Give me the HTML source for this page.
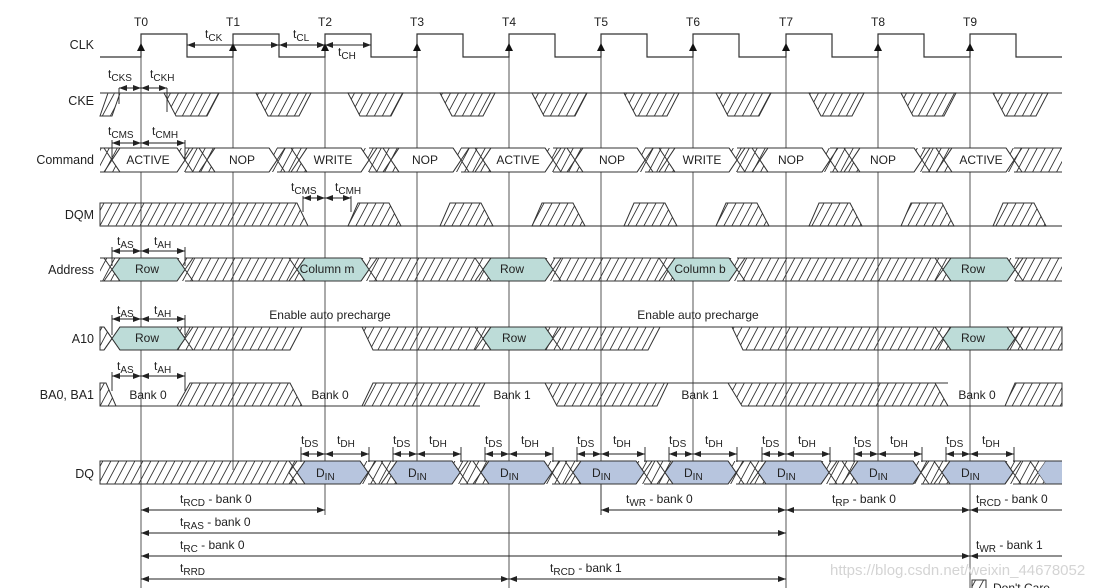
<!DOCTYPE html>
<html><head><meta charset="utf-8"><style>
html,body{margin:0;padding:0;background:#fff;}
svg{display:block;font-family:"Liberation Sans",sans-serif;}
text{font-size:12px;fill:#222;}
.lb{font-size:12.5px;}
.s{font-size:10px;}
</style></head><body>
<svg id="s" width="1117" height="588" viewBox="0 0 1117 588" xmlns="http://www.w3.org/2000/svg">
<defs>
<pattern id="h" patternUnits="userSpaceOnUse" width="8" height="12" patternTransform="skewX(-28)">
<line x1="4" y1="-1" x2="4" y2="13" stroke="#333" stroke-width="1"/>
</pattern>
<marker id="ae" markerWidth="8" markerHeight="6" refX="8" refY="3" orient="auto" markerUnits="userSpaceOnUse"><path d="M0,0 L8,3 L0,6z" fill="#222"/></marker>
<marker id="as" markerWidth="8" markerHeight="6" refX="0" refY="3" orient="auto" markerUnits="userSpaceOnUse"><path d="M8,0 L0,3 L8,6z" fill="#222"/></marker>
</defs>
<g id="g"></g>
<g class="lb" text-anchor="end">
<text x="94" y="49" class="lb">CLK</text>
<text x="94" y="105" class="lb">CKE</text>
<text x="94" y="164" class="lb">Command</text>
<text x="94" y="219" class="lb">DQM</text>
<text x="94" y="274" class="lb">Address</text>
<text x="94" y="343" class="lb">A10</text>
<text x="94" y="399" class="lb">BA0, BA1</text>
<text x="94" y="478" class="lb">DQ</text>
</g>
<g text-anchor="middle" font-size="11">
<text x="141" y="26">T0</text><text x="233" y="26">T1</text><text x="325" y="26">T2</text><text x="417" y="26">T3</text><text x="509" y="26">T4</text><text x="601" y="26">T5</text><text x="693" y="26">T6</text><text x="786" y="26">T7</text><text x="878" y="26">T8</text><text x="970" y="26">T9</text>
</g>
<g text-anchor="middle" style="font-size:10.5px">
<text x="148" y="164">ACTIVE</text><text x="242" y="164">NOP</text><text x="333" y="164">WRITE</text><text x="425" y="164">NOP</text><text x="518" y="164">ACTIVE</text><text x="612" y="164">NOP</text><text x="702" y="164">WRITE</text><text x="791" y="164">NOP</text><text x="883" y="164">NOP</text><text x="981" y="164">ACTIVE</text>
<text x="147" y="273">Row</text><text x="327" y="273">Column m</text><text x="512" y="273">Row</text><text x="700" y="273">Column b</text><text x="973" y="273">Row</text>
<text x="147" y="342">Row</text><text x="514" y="342">Row</text><text x="973" y="342">Row</text>
<text x="148" y="399">Bank 0</text><text x="330" y="399">Bank 0</text><text x="512" y="399">Bank 1</text><text x="700" y="399">Bank 1</text><text x="977" y="399">Bank 0</text>
<text x="330" y="319">Enable auto precharge</text><text x="698" y="319">Enable auto precharge</text>
</g>
<g id="din" text-anchor="middle"></g>
<g>
<text x="205" y="38">t<tspan class="s" dy="3">CK</tspan></text>
<text x="293" y="38">t<tspan class="s" dy="3">CL</tspan></text>
<text x="338" y="56">t<tspan class="s" dy="3">CH</tspan></text>
<text x="108" y="78">t<tspan class="s" dy="3">CKS</tspan></text>
<text x="150" y="78">t<tspan class="s" dy="3">CKH</tspan></text>
<text x="108" y="135">t<tspan class="s" dy="3">CMS</tspan></text>
<text x="152" y="135">t<tspan class="s" dy="3">CMH</tspan></text>
<text x="291" y="191">t<tspan class="s" dy="3">CMS</tspan></text>
<text x="335" y="191">t<tspan class="s" dy="3">CMH</tspan></text>
<text x="117" y="245">t<tspan class="s" dy="3">AS</tspan></text>
<text x="154" y="245">t<tspan class="s" dy="3">AH</tspan></text>
<text x="117" y="314">t<tspan class="s" dy="3">AS</tspan></text>
<text x="154" y="314">t<tspan class="s" dy="3">AH</tspan></text>
<text x="117" y="370">t<tspan class="s" dy="3">AS</tspan></text>
<text x="154" y="370">t<tspan class="s" dy="3">AH</tspan></text>
<text x="180" y="503">t<tspan class="s" dy="3">RCD</tspan><tspan dy="-3"> - bank 0</tspan></text>
<text x="180" y="526">t<tspan class="s" dy="3">RAS</tspan><tspan dy="-3"> - bank 0</tspan></text>
<text x="180" y="549">t<tspan class="s" dy="3">RC</tspan><tspan dy="-3"> - bank 0</tspan></text>
<text x="180" y="572">t<tspan class="s" dy="3">RRD</tspan></text>
<text x="550" y="572">t<tspan class="s" dy="3">RCD</tspan><tspan dy="-3"> - bank 1</tspan></text>
<text x="626" y="503">t<tspan class="s" dy="3">WR</tspan><tspan dy="-3"> - bank 0</tspan></text>
<text x="832" y="503">t<tspan class="s" dy="3">RP</tspan><tspan dy="-3"> - bank 0</tspan></text>
<text x="976" y="503">t<tspan class="s" dy="3">RCD</tspan><tspan dy="-3"> - bank 0</tspan></text>
<text x="976" y="549">t<tspan class="s" dy="3">WR</tspan><tspan dy="-3"> - bank 1</tspan></text>
</g>
<g id="dsdh"></g>
<text x="830" y="575" style="font-size:15px;fill:#d4d4d4">https://blog.csdn.net/weixin_44678052</text>
<rect x="972" y="580" width="14" height="12" fill="url(#h)" stroke="#333"/>
<text x="993" y="592">Don't Care</text>
</svg>
<script>
(function(){
var NS="http://www.w3.org/2000/svg",g=document.getElementById("g");
var T=[141,233,325,417,509,601,693,786,878,970];
function e(tag,a,p){var n=document.createElementNS(NS,tag);for(var k in a)n.setAttribute(k,a[k]);(p||g).appendChild(n);return n;}
function L(x1,y1,x2,y2,c,w,extra){var a={x1:x1,y1:y1,x2:x2,y2:y2,stroke:c||"#333","stroke-width":w||1};for(var k in extra)a[k]=extra[k];return e("line",a);}
function P(pts,fill,stroke){return e("polygon",{points:pts.map(function(p){return p.join(",")}).join(" "),fill:fill,stroke:stroke||"#333","stroke-width":1});}
function A(x1,x2,y){L(x1,y,x2,y,"#222",1,{"marker-start":"url(#as)","marker-end":"url(#ae)"});}
function AR(x1,x2,y){L(x1,y,x2,y,"#222",1,{"marker-start":"url(#as)"});}
var ends=[588,470,515,470,588,515,470,588,470,588];
T.forEach(function(t,i){L(t,44,t,ends[i],"#555",1);});
var d="M100,57";T.forEach(function(t){d+=" L"+t+",57 L"+t+",34 L"+(t+46)+",34 L"+(t+46)+",57";});d+=" L1062,57";
e("path",{d:d,fill:"none",stroke:"#333","stroke-width":1.2});
T.forEach(function(t){e("path",{d:"M"+(t-4)+",51 L"+t+",43 L"+(t+4)+",51z",fill:"#111"});});
P([[100,116],[108,93],[120,93],[112,116]],"url(#h)");
L(100,93,1062,93,"#555",1.2);
T.forEach(function(t){P([[t+23,93],[t+78,93],[t+66,116],[t+35,116]],"url(#h)");});
function bus(y0,y1,wins,fill,startX,endX){
 var m=(y0+y1)/2,s=8;
 wins.forEach(function(w,i){
  var a=w[0];
  if(i===0){
   if(startX!==null){
    P([[100,y0],[a+s,y0],[a,m],[a+s,y1],[100,y1]],"url(#h)","none");
    L(a+s,y0,a-s,y1);L(a+s,y1,a-s,y0);L(100,y0,a+s,y0);L(100,y1,a+s,y1);
   }
  } else {
   var px=wins[i-1][1];
   P([[px-s,y0],[a+s,y0],[a,m],[a+s,y1],[px-s,y1],[px,m]],"url(#h)","none");
   L(a+s,y0,a-s,y1);L(a+s,y1,a-s,y0);
   L(px-s,y0,px+s,y1);L(px-s,y1,px+s,y0);
   L(px,y0,a+s,y0);L(px,y1,a+s,y1);
  }
 });
 var prev=wins[wins.length-1][1];
 if(endX){P([[prev-s,y0],[endX,y0],[endX,y1],[prev-s,y1],[prev,m]],"url(#h)","none");L(prev-s,y0,prev+s,y1);L(prev-s,y1,prev+s,y0);L(prev,y0,endX,y0);L(prev,y1,endX,y1);}
 wins.forEach(function(w){var a=w[0],b=w[1];P([[a,m],[a+s,y0],[b-s,y0],[b,m],[b-s,y1],[a+s,y1]],w[2]||fill);});
}
var cw=[[112,185]];for(var i=1;i<10;i++)cw.push([T[i]-26,T[i]+44]);
bus(148,172,cw,"#fff",100,1062);
P([[100,203],[297,203],[308,226],[100,226]],"url(#h)");
L(100,226,1062,226,"#555",1.2);
for(var i=2;i<10;i++)P([[T[i]+33,203],[T[i]+64,203],[T[i]+76,226],[T[i]+23,226]],"url(#h)");
var TE="#bddcd8";
bus(258,281,[[112,185,TE],[297,369,TE],[483,553,TE],[667,737,TE],[943,1015,TE]],TE,100,1062);
(function(){var y0=327,y1=350,m=338.5,s=8;
 P([[100,y0],[104,y0],[112,m],[104,y1],[100,y1]],"url(#h)");L(104,y0,120,y1);L(104,y1,120,y0);
 P([[177,y0],[302,y0],[290,y1],[177,y1],[185,m]],"url(#h)");L(177,y0,193,y1);L(177,y1,193,y0);
 L(302,y0,362,y0);
 P([[362,y0],[491,y0],[483,m],[491,y1],[373,y1]],"url(#h)");L(491,y0,475,y1);L(491,y1,475,y0);
 P([[545,y0],[660,y0],[648,y1],[545,y1],[553,m]],"url(#h)");L(545,y0,561,y1);L(545,y1,561,y0);
 L(660,y0,732,y0);
 P([[732,y0],[951,y0],[943,m],[951,y1],[743,y1]],"url(#h)");L(951,y0,935,y1);L(951,y1,935,y0);
 P([[1007,y0],[1062,y0],[1062,y1],[1007,y1],[1015,m]],"url(#h)");L(1007,y0,1023,y1);L(1007,y1,1023,y0);
 [[112,185],[483,553],[943,1015]].forEach(function(w){P([[w[0],m],[w[0]+s,y0],[w[1]-s,y0],[w[1],m],[w[1]-s,y1],[w[0]+s,y1]],TE);});
})();
(function(){var y0=383,y1=406;
 P([[100,y0],[106,y0],[116,y1],[100,y1]],"url(#h)");
 L(100,y1,480,y1);L(935,y1,1062,y1);L(473,y0,948,y0);
 P([[190,y0],[290,y0],[302,y1],[177,y1]],"url(#h)");
 P([[373,y0],[485,y0],[473,y1],[362,y1]],"url(#h)");
 P([[545,y0],[668,y0],[657,y1],[557,y1]],"url(#h)");
 P([[728,y0],[935,y0],[948,y1],[742,y1]],"url(#h)");
 P([[1015,y0],[1062,y0],[1062,y1],[1005,y1]],"url(#h)");
})();
var BL="#b7c5de",dw=[];for(var i=2;i<10;i++)dw.push([T[i]-28,T[i]+43]);
P([[100,461],[297,461],[289,472.5],[297,484],[100,484]],"url(#h)");L(100,461,305,461);L(100,484,305,484);L(305,461,289,484);L(305,484,289,461);
bus(461,484,dw,BL,null,null);
var last=T[9]+43;
P([[last-8,461],[1046,461],[1038,472.5],[1046,484],[last-8,484],[last,472.5]],"url(#h)","none");
L(last-8,461,last+8,484);L(last-8,484,last+8,461);L(1046,461,1030,484);L(1046,484,1030,461);L(last,461,1046,461);L(last,484,1046,484);
P([[1038,472.5],[1046,461],[1062,461],[1062,484],[1046,484]],BL,"none");L(1046,461,1062,461,"#333");L(1046,484,1062,484,"#333");
var dg=document.getElementById("din"),ds=document.getElementById("dsdh");
dw.forEach(function(w,i){var c=T[i+2];
 var t=e("text",{x:c-9,y:477,"text-anchor":"start"},dg);t.textContent="D";
 var t2=e("tspan",{dy:3,"class":"s"},t);t2.textContent="IN";
 L(c-24,447,c-24,462,"#333");L(c+44,447,c+44,462,"#333");
 A(c-24,c,454);A(c,c+44,454);
 var a=e("text",{x:c-24,y:444},ds);a.textContent="t";var b=e("tspan",{dy:3,"class":"s"},a);b.textContent="DS";
 var a2=e("text",{x:c+12,y:444},ds);a2.textContent="t";var b2=e("tspan",{dy:3,"class":"s"},a2);b2.textContent="DH";
});
L(187,40,187,57);A(187,279,45);A(279,325,45);A(325,371,45);L(371,34,371,52);
L(119,88,119,104);L(167,88,167,112);A(119,141,88);A(141,167,88);
L(112,140,112,160);L(185,140,185,160);A(112,141,143);A(141,185,143);
L(303,196,303,212);L(351,196,351,212);A(303,325,198);A(325,351,198);
[[251,258],[319,327],[376,383]].forEach(function(r){L(112,r[0]-4,112,r[1]+8);L(185,r[0]-4,185,r[1]+8);A(112,141,r[0]);A(141,185,r[0]);});
A(141,325,510);A(141,786,533);A(141,970,556);A(141,509,579);A(509,786,579);
L(601,484,601,515);A(601,786,510);A(786,970,510);AR(970,1062,510);AR(970,1062,556);
})();
</script>
</body></html>
